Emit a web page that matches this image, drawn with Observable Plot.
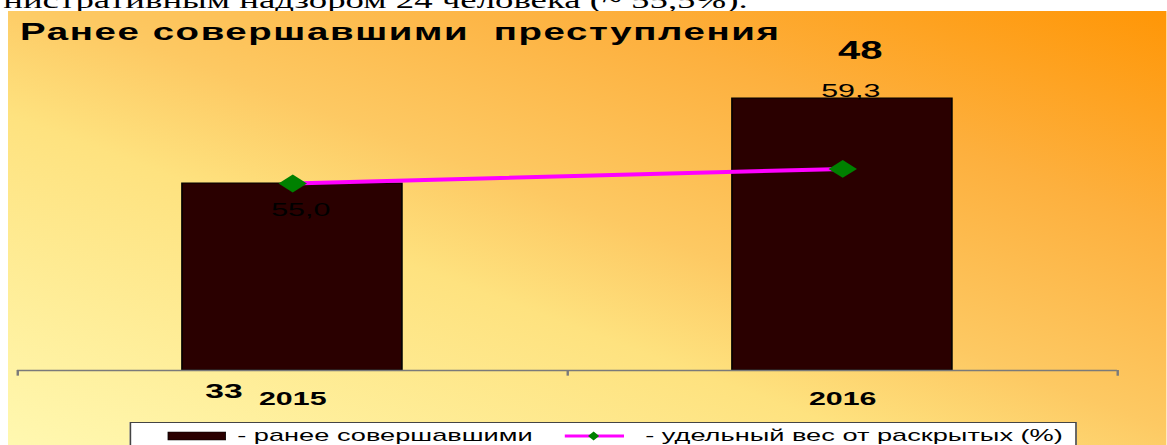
<!DOCTYPE html>
<html>
<head>
<meta charset="utf-8">
<script src="https://cdn.jsdelivr.net/npm/d3@7"></script>
<script src="https://cdn.jsdelivr.net/npm/@observablehq/plot@0.6"></script>
<style>
  html, body { margin: 0; padding: 0; background: #fff; }
  #page { position: relative; width: 1167px; height: 445px; overflow: hidden; background: #fff; }
  #stretch { position: absolute; left: 0; top: 0; width: 729.375px; height: 445px; transform: scaleX(1.6); transform-origin: 0 0; }
  #toptext { position: absolute; left: 0; top: 0; width: 729px; height: 11px; overflow: hidden; }
  #toptext span { position: absolute; left: 2px; top: -11.3px; font: 23px/23px "Liberation Serif", "Times New Roman", serif; white-space: pre; color: #000; }
  #panel { position: absolute; left: 5px; top: 11px; width: 724.375px; height: 434px; overflow: hidden;
    background: linear-gradient(to top right, #fff8b0 0%, #fee27f 38%, #fdc963 52%, #fdb03e 75%, #ff9606 100%); }
  #chart { position: absolute; left: 0; top: 0; }
  #chart svg { overflow: visible; }
  #title { position: absolute; left: 7.5px; top: 8.7px; font: bold 24px/24px "Liberation Sans", Arial, sans-serif; white-space: pre; color: #000; letter-spacing: 1px; }
  #legend { position: absolute; left: 76.25px; top: 411px; width: 592px; height: 40px; background: #fff; border: 1px solid #444; box-sizing: border-box; }
  #legend .lbl { position: absolute; top: 3.6px; font: 17px/17px "Liberation Sans", Arial, sans-serif; white-space: pre; color: #000; }
  #legend svg { position: absolute; left: 0; top: 0; }
</style>
</head>
<body>
<div id="page">
  <div id="stretch">
    <div id="toptext"><span id="toptextspan"></span></div>
    <div id="panel">
      <div id="chart"></div>
      <div id="title"></div>
      <div id="legend"></div>
    </div>
  </div>
</div>
<script>
// ---- data ----
const years = ["2015", "2016"];
const counts = [33, 48];
const shares = [55.0, 59.3];
const countMax = 60;   // left (hidden) axis maximum
const shareMax = 100;  // right (hidden) axis maximum, %
const titleText = "Ранее совершавшими  преступления";
const topText = "нистративным надзором 24 человека (~ 55,5%).";
const legendLabels = ["- ранее совершавшими", "- удельный вес от раскрытых (%)"];

const rows = years.map((year, i) => ({year, count: counts[i], share: shares[i]}));
const fmt1 = v => v.toFixed(1).replace(".", ",");

// ---- layout ----
const W = 724.375, H = 434;
const mL = 5.6, mR = 31.3, mT = 19, mB = 75;
const pIn = 0.6, pOut = 0.3;
const step = (W - mL - mR) / (years.length - pIn + 2 * pOut);
const half = step / 2;
const shareY = d => d.share * countMax / shareMax;

const barColor = "#2a0000";

const chart = Plot.plot({
  width: W,
  height: H,
  marginLeft: mL,
  marginRight: mR,
  marginTop: mT,
  marginBottom: mB,
  style: {background: "transparent", fontFamily: "Liberation Sans, Arial, sans-serif", color: "#000"},
  x: {domain: years, paddingInner: pIn, paddingOuter: pOut, round: false, label: null},
  y: {domain: [0, countMax], axis: null},
  marks: [
    Plot.barY(rows, {x: "year", y: "count", fill: barColor, stroke: "#000", strokeWidth: 1}),
    Plot.ruleY([0], {stroke: "#7a7a7a", strokeWidth: 1.5}),
    Plot.ruleX(years, {x: d => d, y1: () => 0, y2: () => -1, dx: -half, stroke: "#7a7a7a", strokeWidth: 1.5}),
    Plot.ruleX(years.slice(-1), {x: d => d, y1: () => 0, y2: () => -1, dx: half, stroke: "#7a7a7a", strokeWidth: 1.5}),
    Plot.axisX({tickSize: 0, tickPadding: 21.5, fontSize: 19, fontWeight: "bold", label: null}),
    Plot.line(rows, {x: "year", y: shareY, stroke: "#ff00ff", strokeWidth: 4}),
    Plot.dot(rows, {x: "year", y: shareY, symbol: "diamond2", r: 8, fill: "#008000", stroke: "none"}),
    // count labels
    Plot.text(rows, {filter: d => d.year === "2015", x: "year", y: () => 0, text: d => String(d.count),
      dx: -43, dy: 27, lineAnchor: "bottom", fontSize: 21, fontWeight: "bold"}),
    Plot.text(rows, {filter: d => d.year === "2016", x: "year", y: "count", text: d => String(d.count),
      dx: 11, dy: -40, lineAnchor: "bottom", fontSize: 25, fontWeight: "bold"}),
    // share labels
    Plot.text(rows, {filter: d => d.year === "2015", x: "year", y: shareY, text: d => fmt1(d.share),
      dx: 5, dy: 32, lineAnchor: "bottom", fontSize: 19, fill: "#000"}),
    Plot.text(rows, {filter: d => d.year === "2016", x: "year", y: shareY, text: d => fmt1(d.share),
      dx: 5, dy: -71.4, lineAnchor: "bottom", fontSize: 19, fill: "#000"})
  ]
});
document.getElementById("chart").appendChild(chart);

document.getElementById("title").textContent = titleText;
document.getElementById("toptextspan").textContent = topText;

// ---- legend ----
const legend = document.getElementById("legend");
legend.innerHTML = `
  <svg width="590" height="38">
    <rect x="23" y="9" width="36" height="8" fill="${barColor}" stroke="#000" stroke-width="0.5"></rect>
    <line x1="271" x2="308" y1="13" y2="13" stroke="#ff00ff" stroke-width="3"></line>
    <polygon points="289,8.5 292.5,13 289,17.5 285.5,13" fill="#008000"></polygon>
  </svg>
  <span class="lbl" style="left:66px">${legendLabels[0]}</span>
  <span class="lbl" style="left:321px">${legendLabels[1]}</span>`;
</script>
</body>
</html>
